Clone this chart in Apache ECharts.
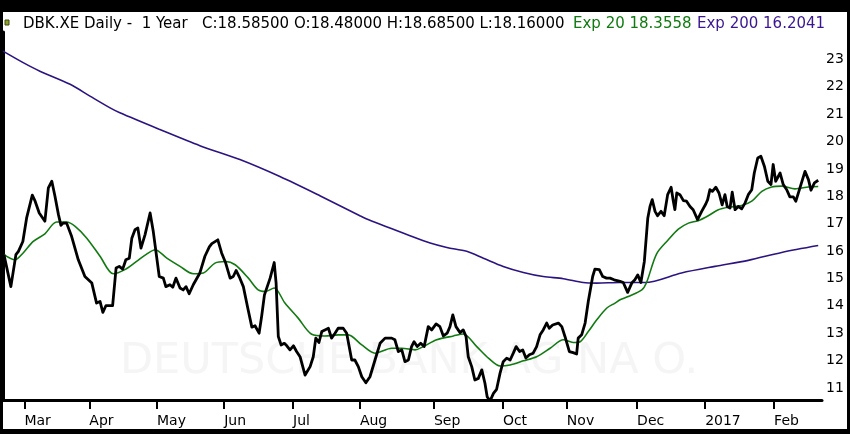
<!DOCTYPE html>
<html>
<head>
<meta charset="utf-8">
<script src="https://cdn.jsdelivr.net/npm/echarts@6/dist/echarts.min.js"></script>
<style>html,body{margin:0;padding:0;background:#fff}#c{width:850px;height:434px}</style>
</head>
<body>
<div id="c"></div>
<script>
// x values are trading-day indices (0 = first day of the 1-year window)
const monthTicks = [6.8, 27.4, 48.9, 70.2, 92.1, 113.3, 136.8, 158.7, 179.0, 201.3, 222.9, 244.8];
const monthLabels = ['Mar','Apr','May','Jun','Jul','Aug','Sep','Oct','Nov','Dec','2017','Feb'];
const yTicks = [11,12,13,14,15,16,17,18,19,20,21,22,23];

const priceDays = [0.3,2.5,4.1,4.9,6.3,7.5,9.3,10.2,11.5,13.3,14.4,15.5,16.5,17.6,18.4,19.1,20.2,21.8,23.9,26.0,28.2,29.7,30.8,31.7,32.7,34.8,35.9,36.9,38.0,39.0,40.1,40.9,41.9,42.8,43.8,45.1,46.7,47.7,49.6,50.9,51.7,53.0,53.9,54.9,56.2,57.2,58.1,59.1,60.4,62.5,64.1,65.5,66.3,68.2,69.4,70.7,72.1,73.1,74.0,75.2,76.3,77.7,79.0,80.0,81.3,82.1,83.0,84.8,86.1,86.7,87.4,88.3,89.3,90.1,91.1,92.2,93.2,94.3,95.9,97.5,98.5,99.3,100.3,101.2,102.2,103.3,104.3,105.4,106.4,108.0,109.1,110.7,111.7,112.8,113.9,115.2,116.5,118.1,119.7,121.3,123.4,124.4,125.5,126.6,127.6,128.7,129.7,130.5,131.5,132.6,133.7,135.0,136.1,137.5,138.7,139.8,141.0,141.9,142.8,143.8,145.1,146.1,147.0,147.7,148.8,149.8,150.9,152.0,153.0,153.7,154.6,155.7,156.7,157.8,158.8,159.9,161.0,162.0,162.9,164.0,165.0,166.0,167.1,168.3,169.4,170.5,171.5,172.6,173.4,174.5,176.3,177.4,178.4,179.8,181.0,182.1,182.6,183.7,184.8,185.8,187.2,187.9,189.3,190.4,191.6,192.7,194.0,195.9,196.9,198.3,199.6,200.6,201.5,202.5,203.6,204.7,205.4,206.1,207.0,207.8,208.9,209.9,211.0,212.1,212.8,213.3,213.9,214.9,216.0,217.0,218.1,219.1,220.5,221.8,223.1,223.7,224.4,225.2,226.3,227.3,228.3,229.2,229.9,230.8,231.5,232.4,233.4,234.5,235.6,236.6,237.7,238.5,239.6,240.6,241.7,242.8,243.8,244.5,245.3,245.9,246.7,247.7,248.8,249.8,250.9,251.7,253.0,254.6,255.7,256.5,257.6,258.8];
const priceVals = [15.87,14.70,15.87,15.99,16.35,17.21,18.04,17.82,17.39,17.09,18.31,18.55,18.00,17.33,16.94,17.02,17.02,16.53,15.68,15.07,14.83,14.10,14.16,13.76,14.01,14.01,15.38,15.44,15.34,15.68,15.74,16.47,16.78,16.84,16.11,16.60,17.39,16.72,15.07,15.01,14.70,14.77,14.68,15.01,14.65,14.58,14.70,14.44,14.77,15.20,15.81,16.15,16.27,16.41,15.93,15.56,15.01,15.07,15.29,15.01,14.70,13.92,13.22,13.27,13.00,13.61,14.40,15.01,15.58,14.83,12.88,12.57,12.63,12.54,12.39,12.54,12.33,12.14,11.47,11.78,12.14,12.82,12.66,13.06,13.12,13.18,12.82,13.00,13.18,13.18,13.00,12.02,12.02,11.78,11.41,11.19,11.41,12.02,12.63,12.82,12.82,12.76,12.33,12.39,11.96,12.02,12.51,12.69,12.51,12.63,12.51,13.24,13.12,13.34,13.24,12.90,13.00,13.24,13.67,13.24,13.02,13.12,12.88,12.14,11.78,11.29,11.35,11.66,11.17,10.68,10.52,10.80,10.95,11.54,11.96,12.09,12.02,12.27,12.51,12.33,12.39,12.09,12.21,12.27,12.51,12.94,13.12,13.37,13.18,13.30,13.37,13.24,12.88,12.33,12.29,12.24,12.82,12.94,13.37,14.16,15.07,15.34,15.32,15.07,15.01,15.01,14.95,14.89,14.85,14.49,14.83,14.95,15.13,14.85,15.62,17.21,17.63,17.88,17.45,17.29,17.45,17.29,18.06,18.33,17.82,17.51,18.12,18.06,17.84,17.82,17.63,17.51,17.15,17.45,17.72,17.88,18.24,18.18,18.33,18.12,17.69,18.06,17.63,17.57,18.15,17.51,17.63,17.54,17.76,18.06,18.24,18.85,19.40,19.46,19.10,18.55,18.43,19.16,18.55,18.49,18.85,18.43,18.24,17.98,17.98,17.82,18.31,18.91,18.61,18.22,18.49,18.585];

const ema20Days = [0.3,3.8,6.4,9.6,13.3,17.0,20.2,22.9,26.6,30.8,35.0,38.7,42.4,45.6,48.3,52.0,56.2,60.4,63.6,67.3,70.5,73.7,77.9,81.0,83.2,86.1,89.5,93.7,98.0,102.2,106.4,109.6,113.9,118.1,123.4,126.6,130.8,133.4,137.7,143.0,146.1,150.4,154.1,157.8,161.0,165.2,169.4,173.7,177.9,181.0,183.2,185.8,188.5,191.7,194.3,195.9,198.5,202.8,204.3,207.5,211.2,214.4,217.6,220.7,223.9,227.1,230.3,234.5,237.7,240.9,244.0,247.2,251.4,255.7,258.8];
const ema20Vals = [15.87,15.68,15.93,16.35,16.63,17.06,17.06,16.90,16.47,15.81,15.17,15.32,15.62,15.89,16.05,15.74,15.44,15.17,15.20,15.56,15.62,15.50,15.01,14.58,14.52,14.65,14.10,13.55,12.96,12.90,12.94,12.94,12.57,12.27,12.45,12.45,12.39,12.51,12.76,12.90,12.97,12.51,12.09,11.80,11.84,11.99,12.14,12.45,12.76,12.66,12.69,13.06,13.49,13.92,14.10,14.22,14.34,14.58,14.85,15.90,16.41,16.80,17.02,17.11,17.29,17.51,17.60,17.66,17.82,18.18,18.34,18.37,18.27,18.34,18.36];

const ema200Days = [0,6.4,11.7,21.3,27.6,34.0,37.1,49.8,62.5,75.2,87.9,100.6,113.3,115.9,129.2,135.6,140.9,147.2,152.5,158.8,165.2,171.5,177.9,184.2,188.5,195.9,203.8,215.4,226.0,236.6,247.2,258.8];
const ema200Vals = [23.30,22.88,22.57,22.09,21.66,21.23,21.05,20.44,19.85,19.34,18.72,18.02,17.29,17.15,16.56,16.29,16.13,15.99,15.74,15.44,15.22,15.07,14.99,14.85,14.83,14.85,14.85,15.20,15.44,15.66,15.95,16.20];

const zip = (xs, ys) => xs.map((x, i) => [x, ys[i]]);
const FONT = 'DejaVu Sans';

const chart = echarts.init(document.getElementById('c'), null, {renderer: 'canvas'});
chart.setOption({
  animation: false,
  backgroundColor: '#fff',
  grid: {left: 3, right: 28, top: 32, bottom: 34, containLabel: false},
  xAxis: {
    type: 'value', min: 0, max: 260,
    axisLine: {show: true, onZero: false, lineStyle: {color: '#000', width: 3}},
    axisTick: {show: true, customValues: monthTicks, length: 9, lineStyle: {color: '#000', width: 2}},
    axisLabel: {
      customValues: monthTicks, color: '#000', fontSize: 14, fontFamily: FONT, align: 'left', margin: 14,
      formatter: function (v) {
        let best = -1, d = 1e9;
        monthTicks.forEach((t, i) => { if (Math.abs(t - v) < d) { d = Math.abs(t - v); best = i; } });
        return d < 0.5 ? monthLabels[best] : '';
      }
    },
    splitLine: {show: false}
  },
  yAxis: {
    type: 'value', position: 'right', min: 10.56, max: 24,
    axisLine: {show: true, lineStyle: {color: '#000', width: 3}},
    axisTick: {show: false},
    axisLabel: {customValues: yTicks, color: '#000', fontSize: 14, fontFamily: FONT, margin: 4},
    splitLine: {show: false}
  },
  graphic: {elements: [
    {type: 'text', left: 120, top: 340, z: -10, silent: true,
     style: {text: 'DEUTSCHE BANK AG NA O.', font: '43px "DejaVu Sans"', fill: '#f5f5f5'}},
    {type: 'rect', shape: {x: 0, y: 0, width: 850, height: 12}, style: {fill: '#000'}},
    {type: 'rect', shape: {x: 0, y: 0, width: 3, height: 434}, style: {fill: '#000'}},
    {type: 'rect', shape: {x: 847, y: 0, width: 3, height: 434}, style: {fill: '#000'}},
    {type: 'rect', shape: {x: 0, y: 429, width: 850, height: 5}, style: {fill: '#000'}},
    {type: 'rect', shape: {x: 5, y: 20, width: 4, height: 5}, style: {fill: '#93a024', stroke: '#3b4a10', lineWidth: 1}},
    {type: 'text', x: 23, y: 24, style: {text: 'DBK.XE Daily -  1 Year   C:18.58500 O:18.48000 H:18.68500 L:18.16000', font: '15px "DejaVu Sans"', fill: '#000', verticalAlign: 'middle'}},
    {type: 'text', x: 573, y: 24, style: {text: 'Exp 20 18.3558', font: '15px "DejaVu Sans"', fill: '#0f7a10', verticalAlign: 'middle'}},
    {type: 'text', x: 697, y: 24, style: {text: 'Exp 200 16.2041', font: '15px "DejaVu Sans"', fill: '#3a1790', verticalAlign: 'middle'}}
  ]},
  series: [
    {type: 'line', name: 'Exp 200', data: zip(ema200Days, ema200Vals), showSymbol: false, smooth: 0.3,
     lineStyle: {color: '#2c1380', width: 1.6}, z: 3},
    {type: 'line', name: 'Exp 20', data: zip(ema20Days, ema20Vals), showSymbol: false, smooth: 0.3,
     lineStyle: {color: '#117a11', width: 1.6}, z: 4},
    {type: 'line', name: 'DBK.XE', data: zip(priceDays, priceVals), showSymbol: false,
     lineStyle: {color: '#000', width: 2.8, join: 'round'}, z: 5}
  ]
});
</script>
</body>
</html>
